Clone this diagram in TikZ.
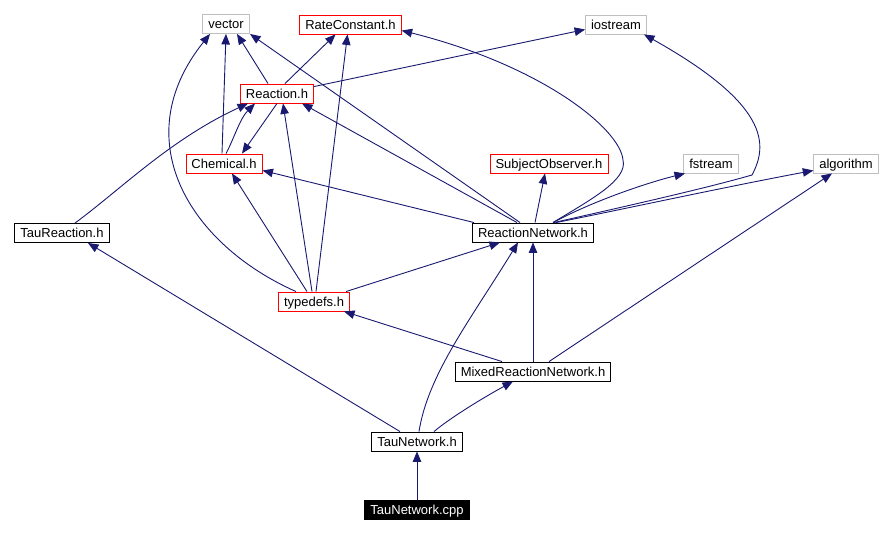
\documentclass[tikz,border=0pt]{standalone}
\usepackage{fontspec}
\setmainfont{Liberation Sans}
\usetikzlibrary{arrows.meta}
\definecolor{edgeblue}{RGB}{25,25,112}
\definecolor{sysgray}{RGB}{191,191,191}
\definecolor{missred}{RGB}{255,0,0}
\tikzset{
  hbox/.style={draw=black,line width=0.9pt,inner xsep=5.5pt,inner ysep=0pt,
               text height=9.4pt,text depth=0pt,
               minimum height=19pt,font=\fontsize{13}{15}\selectfont},
  sysbox/.style={hbox,draw=sysgray},
  redbox/.style={hbox,draw=missred},
  rootbox/.style={hbox,fill=black,text=white},
  inc/.style={-{Triangle[length=10.5pt,width=8.5pt]},draw=edgeblue,line width=0.9pt},
}
\begin{document}
\begin{tikzpicture}[x=1pt,y=-1pt]
  \useasboundingbox (0,0) rectangle (892,534);
  % headers
  \node[sysbox] (vec) at (226,24) {vector};
  \node[redbox] (rate) at (350.5,24.5) {RateConstant.h};
  \node[sysbox] (ios) at (616,24.5) {iostream};
  \node[redbox] (react) at (277,93.5) {Reaction.h};
  \node[redbox] (chem) at (224,163.5) {Chemical.h};
  \node[redbox] (subj) at (549,163.5) {SubjectObserver.h};
  \node[sysbox] (fst) at (711,163.5) {fstream};
  \node[sysbox] (alg) at (846,163.5) {algorithm};
  \node[hbox] (taur) at (62,233) {TauReaction.h};
  \node[hbox] (rnet) at (533,232.5) {ReactionNetwork.h};
  \node[redbox] (tdef) at (314,301.5) {typedefs.h};
  \node[hbox] (mixed) at (533,371.5) {MixedReactionNetwork.h};
  \node[hbox] (taunet) at (417,441.5) {TauNetwork.h};
  \node[rootbox] (cpp) at (417,510) {TauNetwork.cpp};
  % bend points of the long curves
  \coordinate (rcbend) at (623,160);
  \coordinate (iobend) at (752,175);
  % includes
  \draw[inc] (cpp) -- (taunet);
  \draw[inc] ([xshift=-17pt]taunet.north) -- ([xshift=26pt]taur.south);
  \draw[inc] ([xshift=2pt]taunet.north) .. controls +(9,-57) and +(-48,78) .. ([xshift=-15pt]rnet.south);
  \draw[inc] ([xshift=17pt]taunet.north) .. controls +(14,-12) and +(-33,18) .. ([xshift=-20pt]mixed.south);
  \draw[inc] ([xshift=-31pt]mixed.north) -- ([xshift=30pt]tdef.south);
  \draw[inc] (mixed) -- (rnet);
  \draw[inc] ([xshift=16pt]mixed.north) -- ([xshift=-14pt]alg.south);
  \draw[inc] ([xshift=-18pt]tdef.north) .. controls +(-106,-47) and +(-85,106) .. ([xshift=-16pt]vec.south);
  \draw[inc] ([xshift=-7pt]tdef.north) -- ([xshift=8pt]chem.south);
  \draw[inc] ([xshift=-2pt]tdef.north) -- ([xshift=6pt]react.south);
  \draw[inc] ([xshift=2pt]tdef.north) -- ([xshift=-3pt]rate.south);
  \draw[inc] ([xshift=32pt]tdef.north) -- ([xshift=-33pt]rnet.south);
  \draw[inc] ([xshift=-9pt]react.north) -- ([xshift=11pt]vec.south);
  \draw[inc] ([xshift=8pt]react.north) -- ([xshift=-15pt]rate.south);
  \draw[inc] ([yshift=-3pt]react.north east) -- ([yshift=-5pt]ios.west);
  \draw[inc] (react.south) -- ([xshift=18pt]chem.north);
  \draw[inc] ([xshift=2pt]chem.north) .. controls +(8,-15) and +(-15,15) .. ([xshift=-22pt]react.south);
  \draw[inc] ([xshift=-2pt]chem.north) -- (vec.south);
  \draw[inc] ([xshift=13pt]taur.north) .. controls +(45,-33) and +(-78,36) .. ([xshift=-29pt]react.south);
  \draw[inc] ([xshift=-59pt]rnet.north) -- ([yshift=3pt]chem.south east);
  \draw[inc] ([xshift=-16pt]rnet.north) -- ([xshift=25pt]react.south);
  \draw[inc] ([xshift=-13pt]rnet.north) -- ([xshift=24pt]vec.south);
  \draw[inc] ([xshift=20pt]rnet.north) .. controls (590,200) and (628,180) .. (rcbend)
    .. controls (620,128) and (540,65) .. ([yshift=-6pt]rate.east);
  \draw[inc] ([xshift=2pt]rnet.north) -- ([xshift=-4pt]subj.south);
  \draw[inc] ([xshift=20pt]rnet.north) .. controls (595,200) and (650,182) .. ([xshift=-26pt]fst.south);
  \draw[inc] ([xshift=21pt]rnet.north) .. controls (600,212) and (700,190) .. (iobend)
    .. controls (768,145) and (770,105) .. ([xshift=28pt]ios.south);
  \draw[inc] ([xshift=23pt]rnet.north) .. controls (610,212) and (720,188) .. ([yshift=-7pt]alg.west);
\end{tikzpicture}
\end{document}
